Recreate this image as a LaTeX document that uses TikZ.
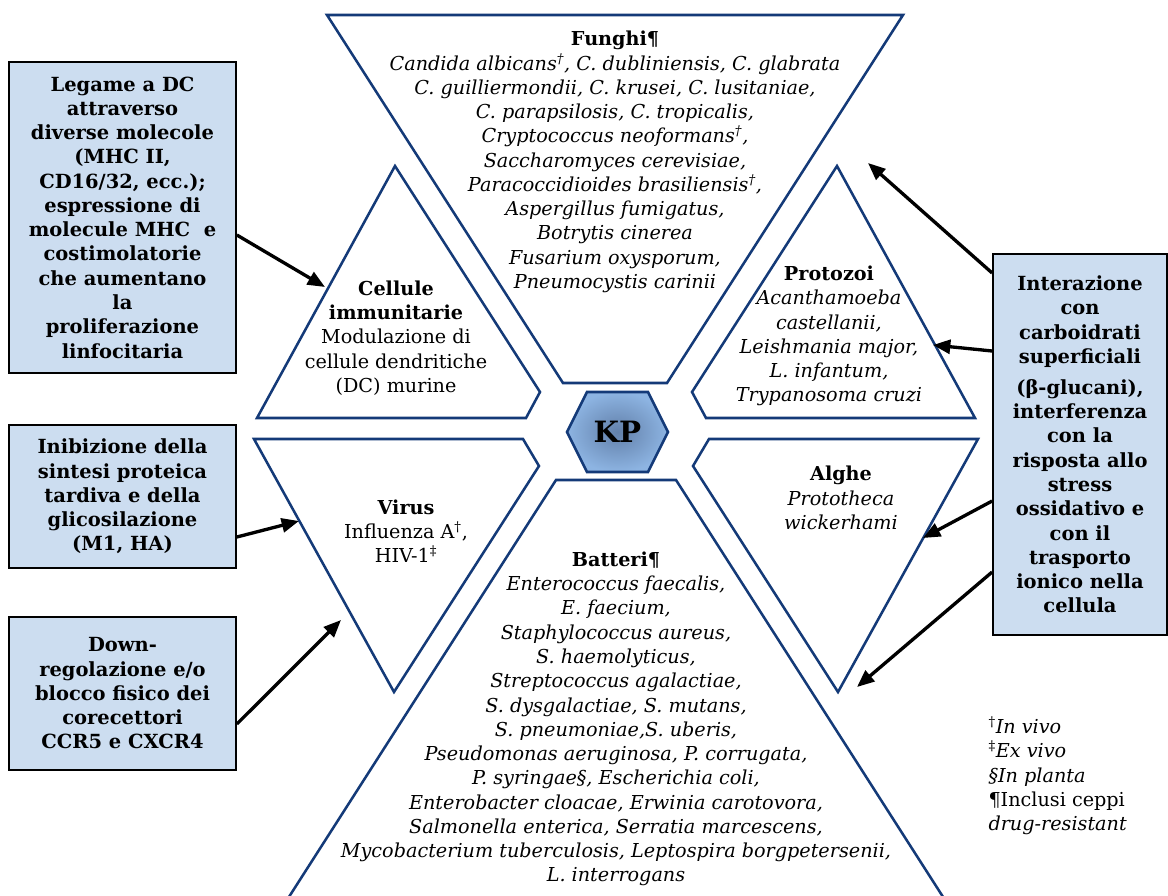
\documentclass[tikz,border=0pt]{standalone}
\usepackage{fontspec}
\setmainfont{DejaVu Serif}
\usetikzlibrary{arrows.meta}
\definecolor{kpnavy}{RGB}{20,58,120}
\definecolor{kpbox}{RGB}{204,221,240}
\definecolor{kpinner}{RGB}{98,128,170}
\definecolor{kpouter}{RGB}{141,180,226}
\newcommand{\kptext}{\fontsize{14.4}{18.2}\selectfont}
\newcommand{\kpbold}{\fontsize{14.6}{18.2}\selectfont\bfseries}
\tikzset{every picture/.style={line width=0.75pt}}
\tikzset{
shapeline/.style={draw=kpnavy, line width=1.9pt, line join=miter},
notebox/.style={draw=black, fill=kpbox, line width=1.3pt, align=center, inner sep=0pt, font=\kpbold},
groupname/.style={align=center, inner sep=0.75pt, font=\kptext\itshape},
pointer/.style={draw=black, line width=2.5pt, -{Triangle[length=13pt,width=10.5pt]}}}

\begin{document}
\begin{tikzpicture}[x=0.75pt,y=0.75pt,yscale=-1,xscale=1]
\useasboundingbox (0,0) rectangle (1168,896);

%Shape: Funghi
\draw[shapeline] (327,15) -- (903,15) -- (667,383) -- (563,383) -- cycle;
%Shape: Cellule immunitarie
\draw[shapeline] (395,166) -- (540,392) -- (526,418) -- (257,418) -- cycle;
%Shape: Protozoi
\draw[shapeline] (837,166) -- (975,418) -- (706,418) -- (692,392) -- cycle;
%Shape: Virus
\draw[shapeline] (254,439) -- (523,439) -- (539,466) -- (394,692) -- cycle;
%Shape: Alghe
\draw[shapeline] (709,439) -- (978,439) -- (838,692) -- (693,466) -- cycle;
%Shape: Batteri
\draw[shapeline] (287,900) -- (556,480) -- (676,480) -- (945,900);
%Shape: KP hexagon
\draw[shapeline, inner color=kpinner, outer color=kpouter] (567,432) -- (587,392) -- (648,392) -- (668,432) -- (648,472) -- (587,472) -- cycle;

% Text Node
\node[font=\fontsize{22}{26}\selectfont\bfseries] (kp) at (617.5,432) {KP};
% Text Node
\node[groupname] (funghi) at (615,162) {\textbf{\upshape Funghi¶}\\
Candida albicans\textsuperscript{†}, C. dubliniensis, C. glabrata\\
C. guilliermondii, C. krusei, C. lusitaniae,\\
C. parapsilosis, C. tropicalis,\\
Cryptococcus neoformans\textsuperscript{†},\\
Saccharomyces cerevisiae,\\
Paracoccidioides brasiliensis\textsuperscript{†},\\
Aspergillus fumigatus,\\
Botrytis cinerea\\
Fusarium oxysporum,\\
Pneumocystis carinii};
% Text Node
\node[groupname, font=\kptext] (cellule) at (396,338) {\textbf{Cellule}\\ \textbf{immunitarie}\\ Modulazione di\\ cellule dendritiche\\ (DC) murine};
% Text Node
\node[groupname] (protozoi) at (829,336) {\textbf{\upshape Protozoi}\\ Acanthamoeba\\ castellanii,\\ Leishmania major,\\ L. infantum,\\ Trypanosoma cruzi};
% Text Node
\node[groupname] (alghe) at (841,498) {\textbf{\upshape Alghe}\\ Prototheca\\ wickerhami};
% Text Node
\node[groupname, font=\kptext] (virus) at (406,531) {\textbf{Virus}\\ Influenza A\textsuperscript{†},\\ HIV-1\textsuperscript{‡}};
% Text Node
\node[groupname] (batteri) at (616,719) {\textbf{\upshape Batteri¶}\\
Enterococcus faecalis,\\
E. faecium,\\
Staphylococcus aureus,\\
S. haemolyticus,\\
Streptococcus agalactiae,\\
S. dysgalactiae, S. mutans,\\
S. pneumoniae,S. uberis,\\
Pseudomonas aeruginosa, P. corrugata,\\
P. syringae§, Escherichia coli,\\
Enterobacter cloacae, Erwinia carotovora,\\
Salmonella enterica, Serratia marcescens,\\
Mycobacterium tuberculosis, Leptospira borgpetersenii,\\
L. interrogans};
% Text Node
\node[groupname, align=left, anchor=west] (legenda) at (987,776) {\textsuperscript{\upshape †}In vivo\\ \textsuperscript{\upshape ‡}Ex vivo\\ §In planta\\ {\upshape ¶Inclusi ceppi}\\ drug-resistant};

% Boxes
\node[notebox, minimum width=170.25pt, minimum height=233.25pt] (dcbox) at (122.5,217.5) {Legame a DC\\ attraverso\\ diverse molecole\\ (MHC II,\\ CD16/32, ecc.);\\ espressione di\\ molecule MHC~ e\\ costimolatorie\\ che aumentano\\ la\\ proliferazione\\ linfocitaria};
\node[notebox, minimum width=170.25pt, minimum height=107.25pt] (sintbox) at (122.5,496.5) {Inibizione della\\ sintesi proteica\\ tardiva e della\\ glicosilazione\\ (M1, HA)};
\node[notebox, minimum width=170.25pt, minimum height=114.75pt] (corebox) at (122.5,693.5) {Down-\\ regolazione e/o\\ blocco fisico dei\\ corecettori\\ CCR5 e CXCR4};
\node[notebox, minimum width=130.5pt, minimum height=285.75pt] (glucbox) at (1080,444.5) {Interazione\\ con\\ carboidrati\\ superficiali\\[5pt] (β-glucani),\\ interferenza\\ con la\\ risposta allo\\ stress\\ ossidativo e\\ con il\\ trasporto\\ ionico nella\\ cellula};

% Arrows
\coordinate (cellin) at (325,287);
\coordinate (virusin) at (299,521);
\coordinate (viruslow) at (341,620);
\coordinate (funghiin) at (868,163);
\coordinate (protoin) at (933,345);
\coordinate (algin) at (923,538);
\coordinate (battin) at (857,687);
\draw[pointer] (dcbox.east |- 0,235) -- (cellin);
\draw[pointer] (sintbox.east |- 0,537) -- (virusin);
\draw[pointer] (corebox.east |- 0,724) -- (viruslow);
\draw[pointer] (glucbox.west |- 0,273) -- (funghiin);
\draw[pointer] (glucbox.west |- 0,351) -- (protoin);
\draw[pointer] (glucbox.west |- 0,501) -- (algin);
\draw[pointer] (glucbox.west |- 0,572) -- (battin);

\end{tikzpicture}
\end{document}
